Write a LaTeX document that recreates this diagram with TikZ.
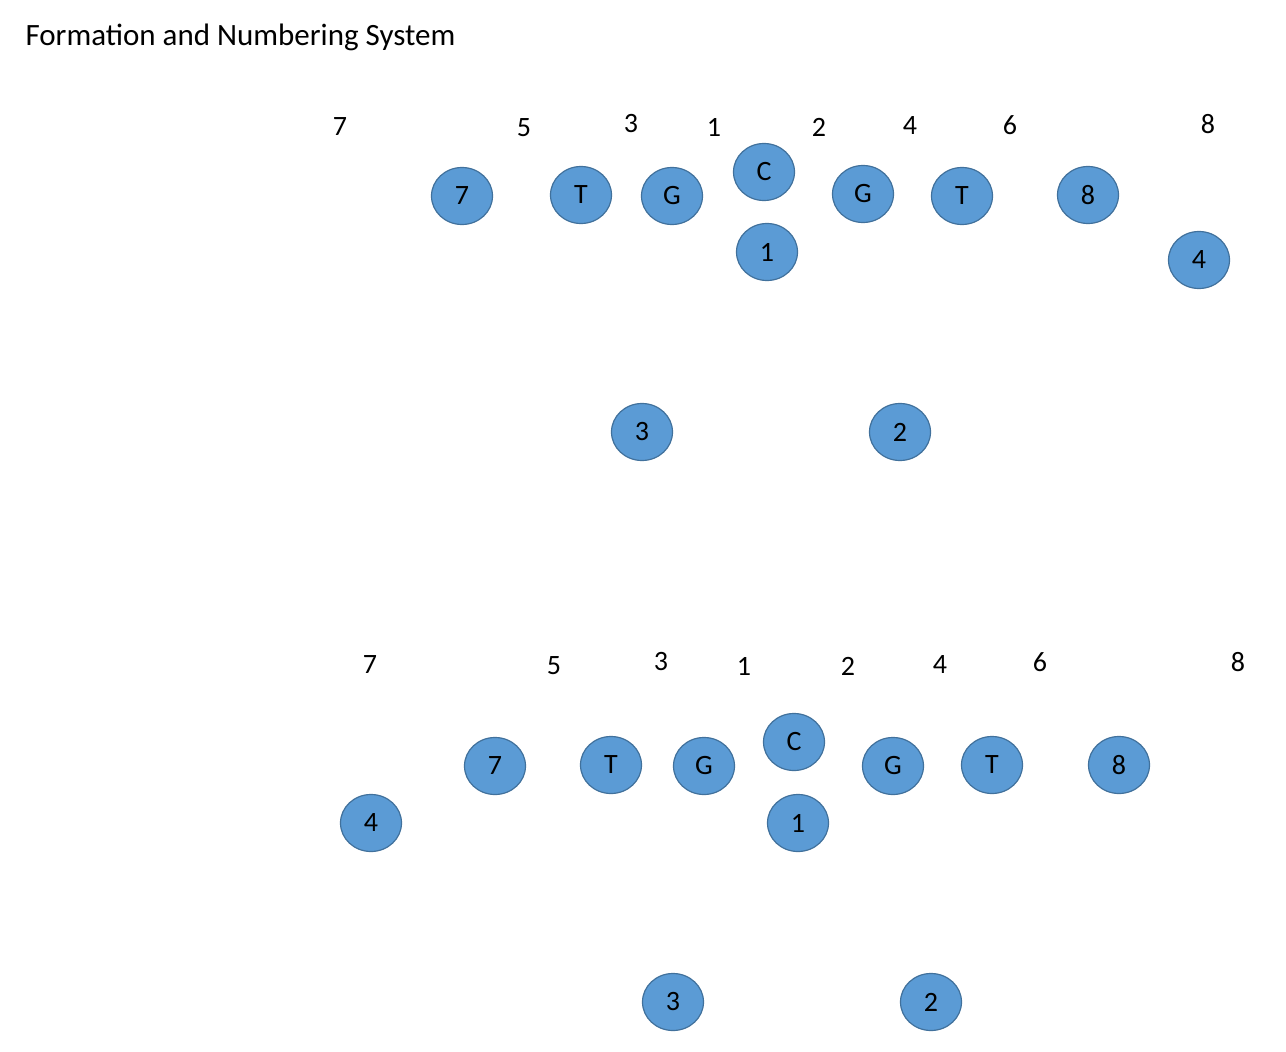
\documentclass[tikz,border=0pt]{standalone}
\usepackage{fontspec}
\setmainfont{Carlito}
\usetikzlibrary{shapes.geometric}
\definecolor{pfill}{HTML}{5B9BD5}
\definecolor{pline}{HTML}{41719C}
\begin{document}
\begin{tikzpicture}[x=1pt,y=-1pt,
  player/.style={ellipse,draw=pline,line width=1.2pt,fill=pfill,minimum width=61pt,minimum height=57pt,inner sep=0pt,font=\fontsize{28}{30}\selectfont},
  hole/.style={inner sep=0pt,font=\fontsize{28}{30}\selectfont}]
\useasboundingbox (0,0) rectangle (1286,1052);
\node[anchor=west,font=\fontsize{31}{34}\selectfont] (title) at (22,37) {Formation and Numbering System};
% top
\foreach \t/\x/\y [count=\i] in {7/340/127,5/524/128,3/631/124,1/714/127,2/819/127,4/910/126,6/1010/125,8/1208/124}
  \node[hole] (ta\i) at (\x,\y) {\t};
\foreach \t/\x/\y [count=\i] in {7/462/196,T/581/195,G/672/196,C/764/172,G/863/194,T/962/196,8/1088/195,1/767/252,4/1199/260,3/642/432,2/900/432}
  \node[player] (tp\i) at (\x,\y) {\t};
% bottom
\foreach \t/\x/\y [count=\i] in {7/370/665,5/554/666,3/661/662,1/744/666,2/848/666,4/940/665,6/1040/662,8/1238/662}
  \node[hole] (ba\i) at (\x,\y) {\t};
\foreach \t/\x/\y [count=\i] in {7/495/766,T/611/765,G/704/766,C/794/742,G/893/766,T/992/765,8/1119/765,4/371/823,1/798/823,3/673/1002,2/931/1002}
  \node[player] (bp\i) at (\x,\y) {\t};
\end{tikzpicture}
\end{document}
